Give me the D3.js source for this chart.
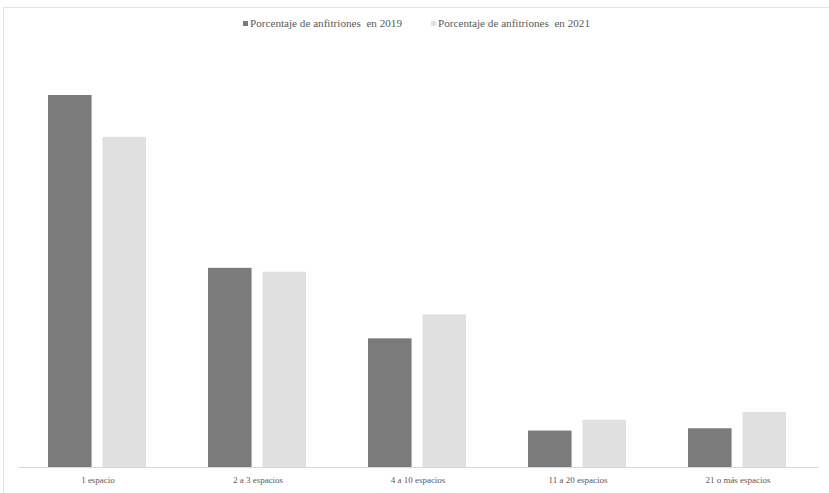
<!DOCTYPE html>
<html><head><meta charset="utf-8">
<script src="https://cdn.jsdelivr.net/npm/d3@7"></script>
<style>body{margin:0;background:#fff}svg{display:block}</style>
</head><body>
<svg id="c" width="829" height="493"></svg>
<script>
const categories = ["1 espacio", "2 a 3 espacios", "4 a 10 espacios", "11 a 20 espacios", "21 o más espacios"];
const series = ["Porcentaje de anfitriones  en 2019", "Porcentaje de anfitriones  en 2021"];
const values2019 = [48.0, 25.7, 16.6, 4.7, 5.0];
const values2021 = [42.6, 25.2, 19.7, 6.1, 7.1];
const colors = ["#7b7b7b", "#e0e0e0"];

const svg = d3.select("#c");
const font = "'Liberation Serif', 'DejaVu Serif', serif";
// border
svg.append("rect").attr("x", 3.5).attr("y", 7.5).attr("width", 830).attr("height", 490)
  .attr("fill", "none").attr("stroke", "#e4e4e4");

const x0 = d3.scaleBand().domain(categories).range([18, 818]).paddingInner(0).paddingOuter(0);
const y = d3.scaleLinear().domain([0, 50]).range([467, 79.5]);
const x1 = d3.scaleBand().domain([0, 1]).range([30, 128]).paddingInner(0.2);

const data = categories.map((c, i) => ({c, v: [values2019[i], values2021[i]]}));
const g = svg.append("g");
data.forEach(d => {
  d.v.forEach((v, j) => {
    g.append("rect")
      .attr("x", x0(d.c) + x1(j))
      .attr("y", y(v))
      .attr("width", x1.bandwidth())
      .attr("height", y(0) - y(v))
      .attr("fill", colors[j]);
  });
});

// axis
const ax = svg.append("g").attr("transform", `translate(0,${y(0)})`)
  .call(d3.axisBottom(x0).tickSize(0).tickPadding(10));
ax.select(".domain").attr("stroke", "#d9d9d9");
ax.selectAll("text").attr("font-family", font).attr("font-size", 9).attr("fill", "#595959");

// legend
const leg = svg.append("g");
const legX = [243, 431];
series.forEach((s, j) => {
  leg.append("rect").attr("x", legX[j]).attr("y", 21).attr("width", 5).attr("height", 5).attr("fill", colors[j]);
  leg.append("text").attr("x", legX[j] + 7).attr("y", 27).text(s)
    .attr("font-family", font).attr("font-size", 10.5).attr("fill", "#595959")
    .attr("textLength", 152).attr("lengthAdjust", "spacingAndGlyphs")
    .style("white-space", "pre");
});
</script>
</body></html>
